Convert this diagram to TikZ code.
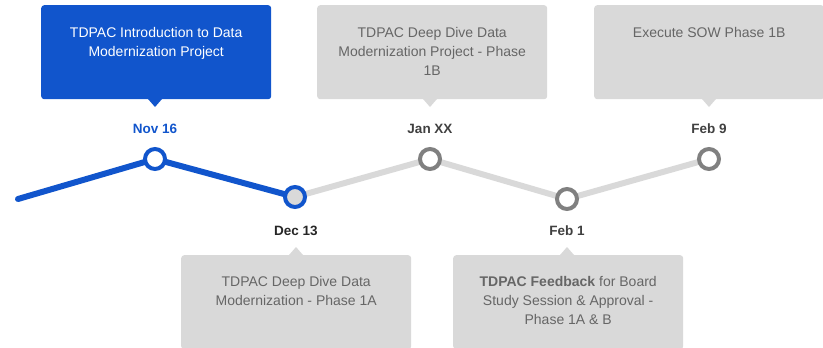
\documentclass[tikz,border=0pt]{standalone}
\usepackage{fontspec}
\setmainfont{Liberation Sans}
\usepackage{xcolor}
\usepackage{tikz}
\usetikzlibrary{positioning}

\definecolor{tlblue}{RGB}{17,85,204}
\definecolor{tlgray}{RGB}{217,217,217}
\definecolor{tldark}{RGB}{128,128,128}
\definecolor{tltext}{RGB}{102,102,102}

\begin{document}
\begin{tikzpicture}[x=1pt, y=-1pt,
    box/.style={rectangle, rounded corners=3pt, minimum width=230pt, minimum height=94pt, anchor=north west, inner sep=0pt},
    boxtext/.style={anchor=north, align=center, inner sep=0pt, font=\fontsize{14}{19}\selectfont},
    dot/.style={circle, line width=4pt, minimum size=20pt, inner sep=0pt},
    datelabel/.style={font=\fontsize{13.5}{15}\selectfont\bfseries}]
        \clip (0,0) rectangle (823,348);

        % Timeline
        \coordinate (start) at (18,199);
        \coordinate (nov) at (155,159);
        \coordinate (dec) at (295,197);
        \coordinate (jan) at (430,159);
        \coordinate (feb1) at (567,199);
        \coordinate (feb9) at (709,159);
        \draw[tlgray, line width=6pt, line join=round] (dec) -- (jan) -- (feb1) -- (feb9);
        \draw[tlblue, line width=6pt, line cap=round, line join=round] (start) -- (nov) -- (dec);

        % Milestones
        \node[dot, draw=tlblue, fill=white] (novdot) at (nov) {};
        \node[dot, draw=tlblue, fill=tlgray] (decdot) at (dec) {};
        \node[dot, draw=tldark, fill=white] (jandot) at (jan) {};
        \node[dot, draw=tldark, fill=white] (feb1dot) at (feb1) {};
        \node[dot, draw=tldark, fill=white] (feb9dot) at (feb9) {};

        % Dates
        \node[datelabel, tlblue] (novlab) at (155,129) {Nov 16};
        \node[datelabel, black!85] (declab) at (296,231) {Dec 13};
        \node[datelabel, black!75] (janlab) at (430,129) {Jan XX};
        \node[datelabel, black!75] (feb1lab) at (567,231) {Feb 1};
        \node[datelabel, black!75] (feb9lab) at (709,129) {Feb 9};

        % Boxes above
        \node[box, fill=tlblue] (b1) at (41,5) {};
        \fill[tlblue] (148,99) -- (155,107) -- (162,99) -- cycle;
        \node[boxtext, white, below=22pt of b1.north] (t1) {TDPAC Introduction to Data\\Modernization Project};

        \node[box, fill=tlgray] (b2) at (317,5) {};
        \fill[tlgray] (423,99) -- (430,107) -- (437,99) -- cycle;
        \node[boxtext, tltext, below=22pt of b2.north] (t2) {TDPAC Deep Dive Data\\Modernization Project - Phase\\1B};

        \node[box, fill=tlgray] (b3) at (594,5) {};
        \fill[tlgray] (702,99) -- (709,107) -- (716,99) -- cycle;
        \node[boxtext, tltext, below=22pt of b3.north] (t3) {Execute SOW Phase 1B};

        % Boxes below
        \node[box, fill=tlgray] (b4) at (181,255) {};
        \fill[tlgray] (289,255) -- (296,247) -- (303,255) -- cycle;
        \node[boxtext, tltext, below=21pt of b4.north] (t4) {TDPAC Deep Dive Data\\Modernization - Phase 1A};

        \node[box, fill=tlgray] (b5) at (453,255) {};
        \fill[tlgray] (560,255) -- (567,247) -- (574,255) -- cycle;
        \node[boxtext, tltext, below=21pt of b5.north] (t5) {\textbf{TDPAC Feedback} for Board\\Study Session \& Approval -\\Phase 1A \& B};
    \end{tikzpicture}
\end{document}
